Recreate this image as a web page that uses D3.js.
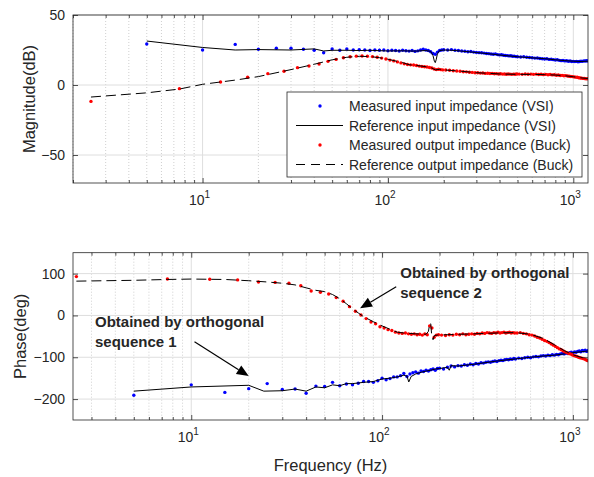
<!DOCTYPE html>
<html>
<head>
<meta charset="utf-8">
<script src="https://cdn.jsdelivr.net/npm/d3@7"></script>
<style>
  body { margin: 0; background: #fff; }
  text { font-family: "Liberation Sans", Arial, Helvetica, sans-serif; fill: #262626; }
</style>
</head>
<body>
<div id="chart"></div>
<script>
// measured frequencies (Hz)
const fIn = [5,10,15,20,25,30,35,40,45,50,55,60,65,70,75,80,85,90,95,100,105,110,115,120,125,130,135,140,145,150,155,160,165,170,175,180,185,190,195,200,
  210,220,230,240,250,260,270,280,290,300,310,320,330,340,350,360,370,380,390,400,410,420,430,440,450,460,470,480,490,500,
  520,540,560,580,600,620,640,660,680,700,720,740,760,780,800,820,840,860,880,900,920,940,960,980,1000,1020,1040,1060,1080,1100,1120,1140,1160,1180,1200];
const fOut = [2.5,7.5,12.5,17.5,22.5,27.5,32.5,37.5,42.5,47.5,52.5,57.5,62.5,67.5,72.5,77.5,82.5,87.5,92.5,97.5,102.5,107.5,112.5,117.5,122.5,127.5,132.5,137.5,142.5,147.5,152.5,157.5,162.5,167.5,172.5,177.5,182.5,187.5,192.5,197.5,
  205,215,225,235,245,255,265,275,285,295,305,315,325,335,345,355,365,375,385,395,405,415,425,435,445,455,465,475,485,495,
  510,530,550,570,590,610,630,650,670,690,710,730,750,770,790,810,830,850,870,890,910,930,950,970,990,1010,1030,1050,1070,1090,1110,1130,1150,1170,1190];

// magnitude (dB)
const magIn = [29.3,25,29,25.5,26.2,26.2,25.5,24.8,23,25.7, 24.8,25.7,25,25.2,25,24.6,25,24.8,25,24.5,
  24.8,24.6,24.3,24.8,24.5,24.2,24.6,24,24.4,25, 25.5,25,24.6,23.8,22.5,22,23.5,24.6,25,25.2,
  25,25.3,24.8,24.6,24.3,24.1,23.8,23.9,23.5,23.3, 23.1,23,22.8,22.5,22.4,22.1,22,22.2,21.7,21.5,
  21.6,21.2,21.1,21,20.8,20.9,20.5,20.6,20.3,20.2,
  20,20.2,19.8,19.6,19.5,19.2,19.3,18.9,18.8,18.6, 18.7,18.3,18.4,18.1,17.9,18,17.6,17.4,17.5,17.2,
  17.3,17,17.1,16.8,16.9,16.7,16.9,16.6,16.8,17, 16.9,17.2,17.1,17.3,17.2];
const magOut = [-11.7,-2.6,2.1,5.5,8.1,9.8,12.4,13.6,15,16.9, 18.3,19.5,20.2,20.6,20.7,20.5,20.3,19.8,19.2,18.6,
  17.8,17.2,16.5,15.8,15.1,14.6,14.4,14.3,13.9,13.5, 13.2,13,12.9,12.5,12.1,11.4,11,11.3,11,10.8,
  10.7,10.5,10.2,10,9.8,9.5,9.4,9.1,9,8.8, 8.7,8.5,8.6,8.3,8.4,8.2,8.3,8,8.1,7.9,
  8,7.8,7.9,7.7,7.9,7.8,7.6,7.8,7.7,7.9,
  7.8,7.6,7.9,7.7,7.8,7.6,7.8,7.5,7.7,7.4, 7.6,7.3,7.5,7.2,7.3,7,7.1,6.8,6.9,6.6,
  6.7,6.4,6.3,6.1,6,5.8,5.6,5.5,5.2,5, 4.9,4.7,4.6,4.4,4.5];

// phase (deg)
const phIn = [-191,-166,-184,-175,-163,-177,-176,-186,-169,-170, -160,-168,-164,-166,-162,-158,-158,-160,-156,-150,
  -154,-151,-147,-147,-144,-139,-146,-140,-137,-135, -138,-133,-134,-131,-133,-130,-128,-131,-127,-126,
  -128,-124,-121,-123,-120,-121,-118,-119,-116,-118, -115,-116,-113,-114,-112,-111,-112,-110,-109,-110,
  -108,-107,-108,-106,-105,-106,-104,-105,-103,-104,
  -102,-103,-101,-100,-101,-99,-98,-99,-97,-96, -97,-95,-96,-94,-95,-93,-94,-92,-91,-92,
  -90,-91,-89,-88,-90,-87,-88,-86,-85,-87, -84,-85,-83,-86,-84];
const phOut = [92.8,87,86.6,85,80,79,77,71,58.6,55.5, 51.4,42.6,34,21,10,1,-7.6,-15.6,-20,-27,
  -30,-34,-36,-40,-42,-43,-42,-44,-45,-44, -46,-45,-47,-44,-46,-25,-30,-52,-47,-46,
  -47,-48,-46,-47,-45,-46,-44,-46,-45,-44, -45,-43,-44,-42,-43,-41,-42,-43,-41,-42,
  -40,-42,-41,-40,-42,-41,-40,-42,-41,-42,
  -42,-41,-43,-44,-46,-47,-49,-52,-54,-57, -60,-62,-65,-68,-71,-74,-77,-80,-82,-85,
  -87,-89,-91,-92,-94,-96,-97,-98,-100,-101, -102,-103,-104,-106,-108];

// reference curves
const refInMagF = [5,10,15,20,30,40,45,50,60,70,80,90,100,120,140,160,170,175,178,180,182,185,190,200,220,250,300,350,400,500,600,700,800,900,1000,1100,1200];
const refInMag = [31.4,26.8,25,25.3,25,25.8,24.3,24.8,24.8,24.6,24.8,24.5,24.3,24.4,24.2,24.6,24,21,17,16,18,22.5,24.6,25,24.8,24.2,23.2,22.3,21.4,20.2,19.4,18.8,18,17.4,17,16.8,17];
const refOutMagF = [2.5,5,7.5,10,15,20,30,40,50,60,70,80,90,100,120,130,150,170,180,190,200,250,300,400,500,600,700,800,900,1000,1100,1200];
const refOutMag = [-8.6,-5.6,-2.9,0.5,3.5,6,11,14.8,18,19.8,20.5,20.3,19.5,18.4,16,14.5,13.6,12.5,10.8,11.2,10.8,9.8,8.8,7.9,7.6,7.6,7.4,7.1,6.6,5.9,5.1,4.6];
const refInPhF = [5,10,20,24,30,35,40,45,50,55,60,65,70,80,90,100,110,120,130,135,138,142,150,160,170,180,190,200,220,225,230,250,300,400,500,600,700,800,900,1000,1100,1200];
const refInPh = [-181,-171,-167,-181,-180,-176,-181,-171,-173,-166,-168,-163,-163,-160,-158,-152,-150,-147,-143,-145,-159,-146,-140,-136,-133,-131,-128,-127,-124,-131,-120,-121,-117,-109,-104,-100,-97,-95,-92,-89,-87,-85];
const refOutPhF = [2.5,5,7.5,10,15,20,25,30,35,40,45,50,55,60,65,70,75,80,90,100,110,120,130,150,170,175,178,180,182,185,188,195,220,300,400,500,600,700,800,900,1000,1100,1200];
const refOutPh = [82,84,86,87,86,83,80,77,73,66,60,57,50,40,28,16,6,-3,-15,-25,-33,-40,-42,-44,-45,-38,-18,-20,-48,-58,-48,-47,-46,-44,-42,-41,-45,-55,-70,-84,-94,-100,-104];

const magTicks = [-50, 0, 50];
const phTicks = [-200, -100, 0, 100];
const decades = [1, 10, 100, 1000];

const legendLabels = ["Measured input impedance (VSI)", "Reference input impedance (VSI)",
  "Measured output impedance (Buck)", "Reference output impedance (Buck)"];

const notes = [
  {lines: ["Obtained by orthogonal", "sequence 1"], f: 3.13, ph: -28, from: [10.4, -63], to: [20, -145]},
  {lines: ["Obtained by orthogonal", "sequence 2"], f: 124.5, ph: 89, from: [118.6, 68.7], to: [76.7, 17]}
];

const W = 594, H = 477;
const AX = '#262626';
const svg = d3.select('#chart').append('svg').attr('width', W).attr('height', H);

const xTop = d3.scaleLog().domain([2, 1200]).range([73, 588]);
const xBot = d3.scaleLog().domain([2.4, 1200]).range([73, 588]);
const yMag = d3.scaleLinear().domain([-70, 50]).range([183, 15]);
const yPh = d3.scaleLinear().domain([-250, 150]).range([420, 252.7]);

function minorOf(x) {
  const [a, b] = x.domain();
  const out = [];
  decades.forEach(d => { for (let m = 2; m <= 9; m++) { const v = m * d; if (v >= a && v <= b) out.push(v); } });
  return out;
}
function majorOf(x) {
  const [a, b] = x.domain();
  return decades.filter(v => v >= a && v <= b);
}

function panel(x, y, yTicks, yLabel, labelX, id) {
  const [x0, x1] = x.range();
  const [yb, yt] = y.range();
  const g = svg.append('g');

  // grid
  g.append('g').selectAll('line').data(minorOf(x)).join('line')
    .attr('x1', d => x(d)).attr('x2', d => x(d)).attr('y1', yt).attr('y2', yb)
    .attr('stroke', '#c4c4c4').attr('stroke-width', 0.8).attr('stroke-dasharray', '1,2');
  g.append('g').selectAll('line').data(majorOf(x)).join('line')
    .attr('x1', d => x(d)).attr('x2', d => x(d)).attr('y1', yt).attr('y2', yb)
    .attr('stroke', '#dedede').attr('stroke-width', 1);
  g.append('g').selectAll('line').data(yTicks).join('line')
    .attr('x1', x0).attr('x2', x1).attr('y1', d => y(d)).attr('y2', d => y(d))
    .attr('stroke', '#dedede').attr('stroke-width', 1);

  svg.append('clipPath').attr('id', id).append('rect')
    .attr('x', x0).attr('y', yt).attr('width', x1 - x0).attr('height', yb - yt);
  const plot = svg.append('g').attr('clip-path', `url(#${id})`);

  // axes, ticks inward
  const styleAxis = sel => {
    sel.select('.domain').remove();
    sel.selectAll('line').attr('stroke', AX).attr('stroke-width', 0.8);
    sel.selectAll('text').attr('fill', AX).style('font-size', '14px')
      .style('font-family', '"Liberation Sans", Arial, sans-serif');
  };
  const axes = svg.append('g');
  axes.append('g').attr('transform', `translate(${x0},0)`)
    .call(d3.axisLeft(y).tickValues(yTicks).tickSize(-5).tickPadding(8)).call(styleAxis);
  axes.append('g').attr('transform', `translate(${x1},0)`)
    .call(d3.axisRight(y).tickValues(yTicks).tickSize(-5).tickFormat('')).call(styleAxis);
  [[d3.axisBottom, yb], [d3.axisTop, yt]].forEach(([ax, py]) => {
    axes.append('g').attr('transform', `translate(0,${py})`)
      .call(ax(x).tickValues(majorOf(x)).tickSize(-5).tickFormat('')).call(styleAxis);
    axes.append('g').attr('transform', `translate(0,${py})`)
      .call(ax(x).tickValues(minorOf(x)).tickSize(-3).tickFormat('')).call(styleAxis);
  });
  axes.append('rect').attr('x', x0).attr('y', yt).attr('width', x1 - x0).attr('height', yb - yt)
    .attr('fill', 'none').attr('stroke', AX).attr('stroke-width', 0.8);

  // log labels 10^n
  majorOf(x).forEach(v => {
    const t = axes.append('text').attr('x', x(v) - 3).attr('y', yb + 22)
      .attr('text-anchor', 'middle').attr('font-size', 14);
    t.append('tspan').text('10');
    t.append('tspan').attr('dy', -7).attr('font-size', 10).text(Math.round(Math.log10(v)));
  });

  axes.append('text')
    .attr('transform', `translate(${labelX},${(yt + yb) / 2}) rotate(-90)`)
    .attr('text-anchor', 'middle').attr('font-size', 16.5).text(yLabel);

  return plot;
}

function dots(g, x, y, fs, vs, color) {
  g.append('g').selectAll('circle').data(fs).join('circle')
    .attr('cx', d => x(d)).attr('cy', (d, i) => y(vs[i])).attr('r', 1.7).attr('fill', color);
}
function curve(g, x, y, fs, vs, dashed) {
  g.append('path').datum(fs)
    .attr('d', d3.line().x(d => x(d)).y((d, i) => y(vs[i])))
    .attr('fill', 'none').attr('stroke', '#000').attr('stroke-width', 1)
    .attr('stroke-dasharray', dashed ? '10,5' : null);
}

// top: magnitude
const magPlot = panel(xTop, yMag, magTicks, 'Magnitude(dB)', 35, 'clipTop');
dots(magPlot, xTop, yMag, fIn, magIn, '#0000ff');
curve(magPlot, xTop, yMag, refInMagF, refInMag, false);
dots(magPlot, xTop, yMag, fOut, magOut, '#ff0000');
curve(magPlot, xTop, yMag, refOutMagF, refOutMag, true);

// bottom: phase
const phPlot = panel(xBot, yPh, phTicks, 'Phase(deg)', 26, 'clipBot');
dots(phPlot, xBot, yPh, fIn, phIn, '#0000ff');
curve(phPlot, xBot, yPh, refInPhF, refInPh, false);
dots(phPlot, xBot, yPh, fOut, phOut, '#ff0000');
curve(phPlot, xBot, yPh, refOutPhF, refOutPh, true);

svg.append('text').attr('x', (73 + 588) / 2).attr('y', 471)
  .attr('text-anchor', 'middle').attr('font-size', 16.5).text('Frequency (Hz)');

// legend
const lg = svg.append('g').attr('transform', 'translate(287,92)');
lg.append('rect').attr('width', 295).attr('height', 85)
  .attr('fill', '#fff').attr('stroke', AX).attr('stroke-width', 0.8);
legendLabels.forEach((lab, i) => {
  const ly = 14 + i * 19.5;
  const row = lg.append('g').attr('transform', `translate(0,${ly})`);
  if (i === 0 || i === 2) {
    row.append('circle').attr('cx', 33).attr('cy', 0).attr('r', 1.7)
      .attr('fill', i === 0 ? '#0000ff' : '#ff0000');
  } else {
    row.append('line').attr('x1', 9).attr('x2', 56).attr('y1', 0).attr('y2', 0)
      .attr('stroke', '#000').attr('stroke-width', 1)
      .attr('stroke-dasharray', i === 3 ? '9,6' : null);
  }
  row.append('text').attr('x', 62).attr('y', 5).attr('font-size', 14).attr('fill', '#000').text(lab);
});

// annotations
notes.forEach(n => {
  const tx = xBot(n.f), ty = yPh(n.ph);
  const t = svg.append('text').attr('font-size', 15).attr('font-weight', 'bold').attr('fill', '#000');
  n.lines.forEach((s, i) => t.append('tspan').attr('x', tx).attr('y', ty + i * 20).text(s));
  const ax0 = xBot(n.from[0]), ay0 = yPh(n.from[1]);
  const ax1 = xBot(n.to[0]), ay1 = yPh(n.to[1]);
  const ang = Math.atan2(ay1 - ay0, ax1 - ax0);
  const L = 12, hw = 5;
  const bx = ax1 - L * Math.cos(ang), by = ay1 - L * Math.sin(ang);
  svg.append('line').attr('x1', ax0).attr('y1', ay0).attr('x2', bx).attr('y2', by)
    .attr('stroke', '#000').attr('stroke-width', 1.2);
  const px = -Math.sin(ang) * hw, py = Math.cos(ang) * hw;
  svg.append('path')
    .attr('d', `M${ax1},${ay1}L${bx + px},${by + py}L${bx - px},${by - py}Z`)
    .attr('fill', '#000');
});
</script>
</body>
</html>
